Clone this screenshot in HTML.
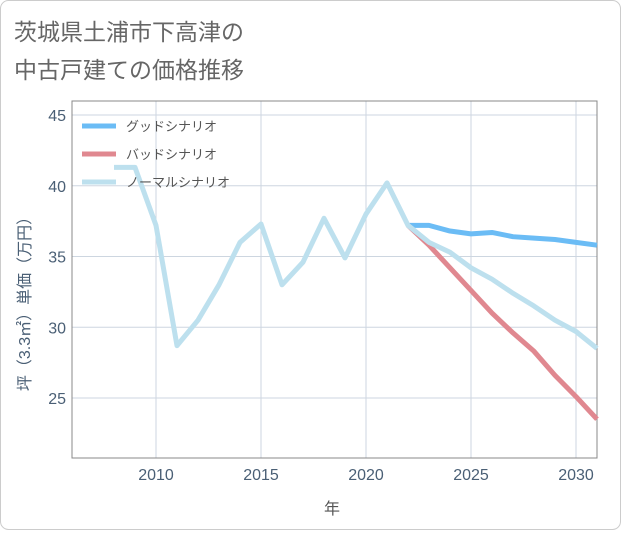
<!DOCTYPE html>
<html><head><meta charset="utf-8"><style>
body{margin:0;background:#fff;}
svg text{font-family:"Liberation Sans","Noto Sans CJK JP",sans-serif;}
</style></head><body>
<svg id="c" width="621" height="530" xmlns="http://www.w3.org/2000/svg">
<rect x="0.5" y="0.5" width="620" height="529" rx="8" fill="#fff" stroke="#ccc"/>
<text x="14" y="40" font-size="23" fill="#666">茨城県土浦市下高津の</text>
<text x="14" y="78" font-size="23" fill="#666">中古戸建ての価格推移</text>
<g id="grid"></g>
<rect x="72" y="101" width="525" height="357" fill="none" stroke="#888"/>
<g id="lines"></g>
<g id="legend"></g>
<text x="332" y="514" font-size="16" fill="#555" text-anchor="middle">年</text>
<text transform="translate(30,300) rotate(-90)" font-size="16" fill="#4a5f75" text-anchor="middle">坪（3.3㎡）単価（万円）</text>
</svg>
<script>
const years=[2008,2009,2010,2011,2012,2013,2014,2015,2016,2017,2018,2019,2020,2021,2022,2023,2024,2025,2026,2027,2028,2029,2030,2031];
const normal=[41.3,41.3,37.2,28.7,30.5,33,36,37.3,33,34.6,37.7,34.9,38,40.2,37.2,36,35.3,34.2,33.4,32.4,31.5,30.5,29.7,28.5];
const fYears=[2022,2023,2024,2025,2026,2027,2028,2029,2030,2031];
const good=[37.2,37.2,36.8,36.6,36.7,36.4,36.3,36.2,36.0,35.8];
const bad=[37.2,35.8,34.2,32.6,31,29.6,28.3,26.6,25.1,23.5];
const xTicks=[2010,2015,2020,2025,2030];
const yTicks=[25,30,35,40,45];
const X=y=>72+(y-2006)*21;
const Y=v=>115+(45-v)*14.15;
const NS="http://www.w3.org/2000/svg";
function mk(t,a,p){const e=document.createElementNS(NS,t);for(const k in a)e.setAttribute(k,a[k]);p.appendChild(e);return e;}
const g=document.getElementById('grid');
xTicks.forEach(t=>{const l=mk('line',{x1:X(t),x2:X(t),y1:101,y2:458,stroke:'#cdd6e0'},g);


const tx=mk('text',{x:X(t),y:480,'font-size':16,fill:'#4a5f75','text-anchor':'middle'},g);tx.textContent=t;

});
yTicks.forEach(t=>{const l=mk('line',{x1:72,x2:597,y1:Y(t),y2:Y(t),stroke:'#cdd6e0'},g);


const tx=mk('text',{x:66,y:Y(t)+6,'font-size':16,fill:'#4a5f75','text-anchor':'end'},g);tx.textContent=t;

});
const L=document.getElementById('lines');
function line(xs,vs,c,n){const p=mk('polyline',{points:xs.map((x,i)=>X(x)+','+Y(vs[i])).join(' '),fill:'none',stroke:c,'stroke-width':5,'stroke-linejoin':'round'},L);

}
line(fYears,good,'#6bbcf5','good-scenario-line');
line(fYears,bad,'#e08890','bad-scenario-line');
line(years,normal,'#bde0ee','normal-scenario-line');
const lg=document.getElementById('legend');
[['グッドシナリオ','#6bbcf5'],['バッドシナリオ','#e08890'],['ノーマルシナリオ','#bde0ee']].forEach((d,i)=>{
const y=126+i*28;
const l=mk('line',{x1:82,x2:116,y1:y,y2:y,stroke:d[1],'stroke-width':5},lg);


const t=mk('text',{x:126,y:y+5,'font-size':13,fill:'#555'},lg);t.textContent=d[0];

});
</script>
</body></html>
